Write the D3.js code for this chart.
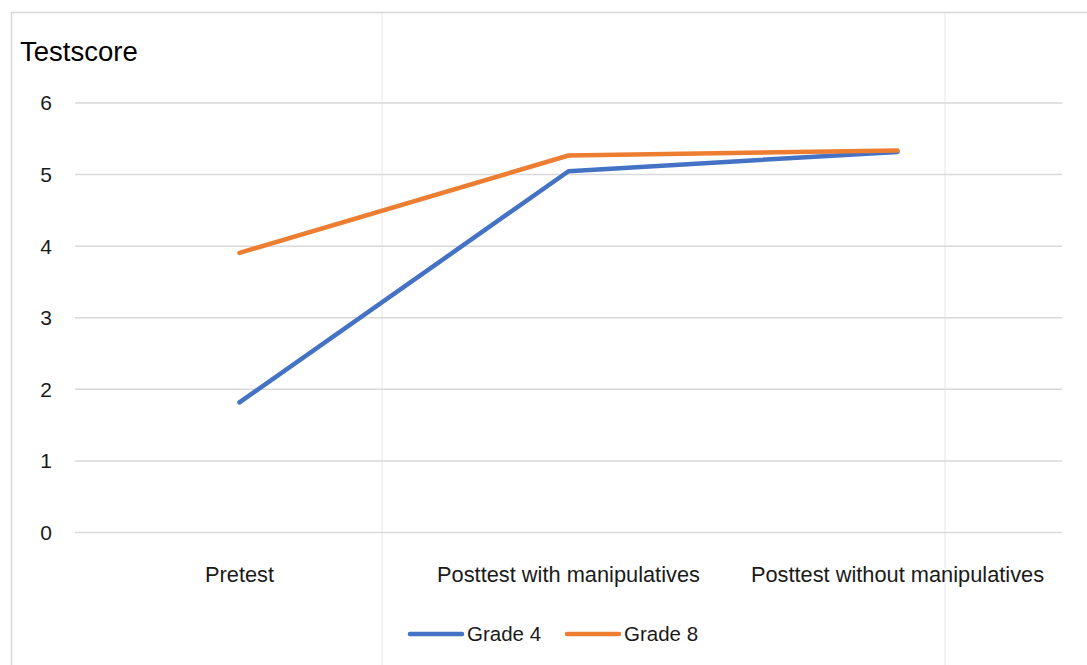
<!DOCTYPE html>
<html>
<head>
<meta charset="utf-8">
<script src="https://cdn.jsdelivr.net/npm/d3@7"></script>
<style>
  html, body { margin: 0; padding: 0; background: #fff; }
  svg { display: block; font-family: "Liberation Sans", Arial, sans-serif; }
</style>
</head>
<body>
<svg id="chart" width="1087" height="665"></svg>
<script>
// Test scores by phase for two grades
const categories = ["Pretest", "Posttest with manipulatives", "Posttest without manipulatives"];
const grade4 = [1.81, 5.04, 5.31];
const grade8 = [3.90, 5.26, 5.33];
const yTicks = [0, 1, 2, 3, 4, 5, 6];
const seriesNames = ["Grade 4", "Grade 8"];
const seriesColors = ["#4472C4", "#ED7D31"];

const svg = d3.select("#chart");
const W = 1087, H = 665;

// sheet cell lines behind the chart area
svg.append("g").selectAll("line").data([382, 945]).join("line")
  .attr("x1", d => d).attr("x2", d => d)
  .attr("y1", 12).attr("y2", H)
  .attr("stroke", "#efefef").attr("stroke-width", 1.5);

// chart frame edges
svg.append("line").attr("x1", 11).attr("x2", W).attr("y1", 12.5).attr("y2", 12.5)
  .attr("stroke", "#d6d6d6").attr("stroke-width", 1.5);
svg.append("line").attr("x1", 11.5).attr("x2", 11.5).attr("y1", 12).attr("y2", H)
  .attr("stroke", "#d6d6d6").attr("stroke-width", 1.5);

const plot = { left: 75, right: 1062, top: 102.5, bottom: 532 };

const x = d3.scaleBand().domain(categories).range([plot.left, plot.right]);
const y = d3.scaleLinear().domain([0, 6]).range([plot.bottom, plot.top]);

// horizontal gridlines
const yAxis = d3.axisLeft(y).tickValues(yTicks).tickSize(-(plot.right - plot.left)).tickPadding(23).tickFormat(d3.format("d"));
const gy = svg.append("g").attr("transform", `translate(${plot.left},0)`).call(yAxis);
gy.select(".domain").remove();
gy.selectAll(".tick line").attr("stroke", "#d9d9d9").attr("stroke-width", 1.5);
gy.selectAll(".tick text").attr("fill", "#1a1a1a").attr("font-size", 21).attr("dy", "0.35em");

// category axis labels
const xAxis = d3.axisBottom(x).tickSize(0).tickPadding(35);
const gx = svg.append("g").attr("transform", `translate(0,${plot.bottom})`).call(xAxis);
gx.select(".domain").remove();
gx.selectAll(".tick text").attr("fill", "#1a1a1a").attr("font-size", 21.8);

// axis title
svg.append("text").attr("x", 20).attr("y", 61)
  .attr("font-size", 27.5).attr("fill", "#000").text("Testscore");

// series lines
const line = d3.line()
  .x((d, i) => x(categories[i]) + x.bandwidth() / 2)
  .y(d => y(d));

[grade4, grade8].forEach((vals, k) => {
  svg.append("path").datum(vals)
    .attr("d", line)
    .attr("fill", "none")
    .attr("stroke", seriesColors[k])
    .attr("stroke-width", 4.5)
    .attr("stroke-linecap", "round")
    .attr("stroke-linejoin", "round");
});

// legend
const legendItems = [
  { name: seriesNames[0], color: seriesColors[0], x: 410 },
  { name: seriesNames[1], color: seriesColors[1], x: 567 }
];
const lg = svg.append("g");
legendItems.forEach(it => {
  lg.append("line").attr("x1", it.x).attr("x2", it.x + 52)
    .attr("y1", 634).attr("y2", 634)
    .attr("stroke", it.color).attr("stroke-width", 4.5).attr("stroke-linecap", "round");
  lg.append("text").attr("x", it.x + 57).attr("y", 641)
    .attr("font-size", 20.5).attr("fill", "#1a1a1a").text(it.name);
});
</script>
</body>
</html>
